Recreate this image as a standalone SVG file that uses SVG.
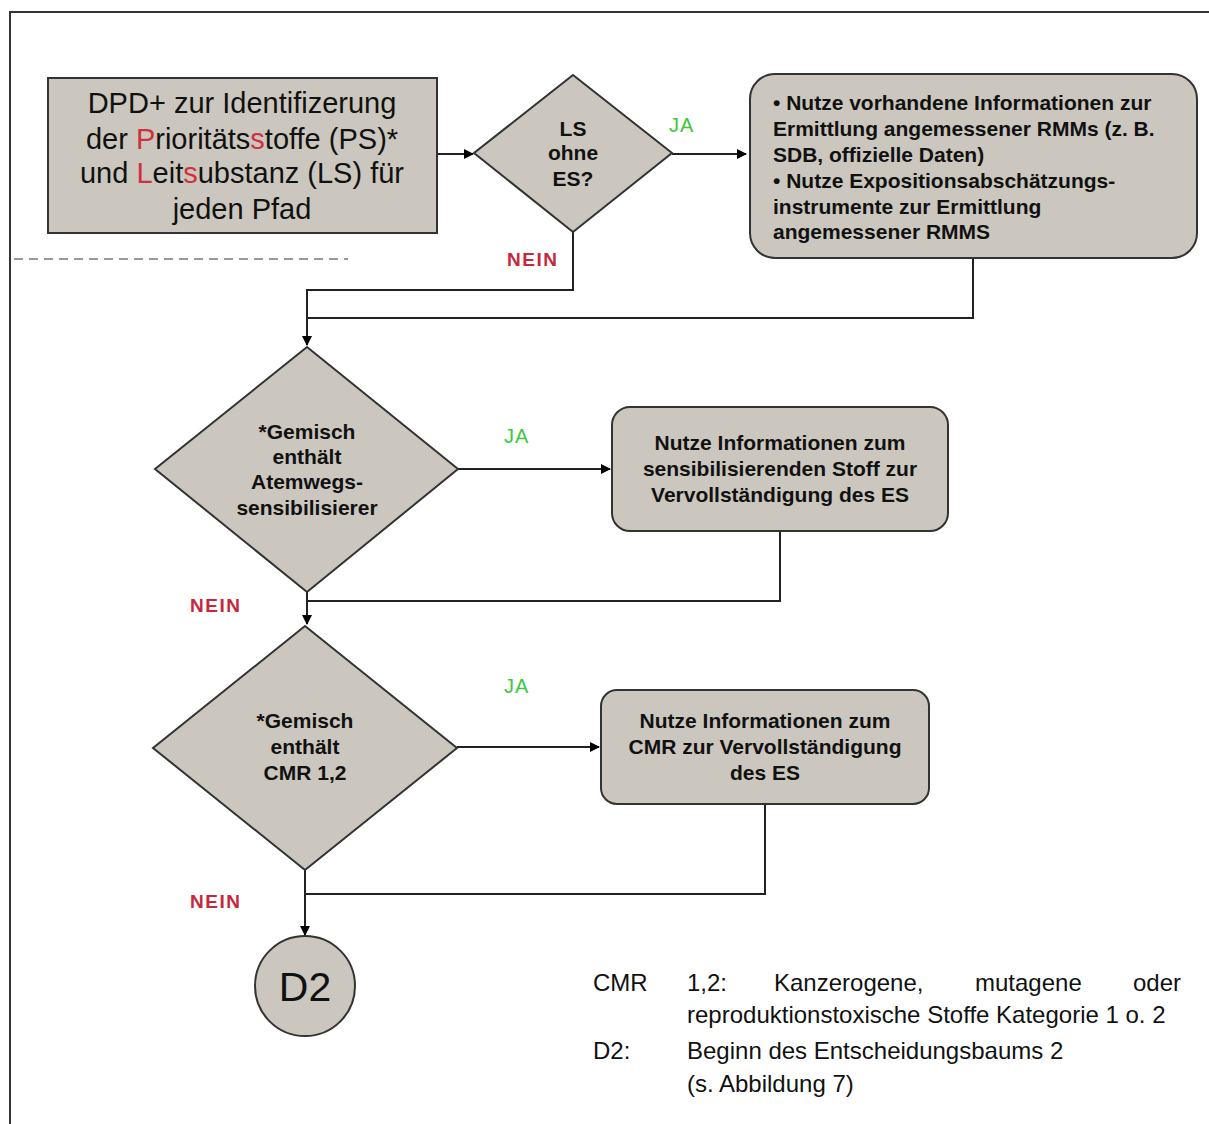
<svg xmlns="http://www.w3.org/2000/svg" width="1209" height="1124" viewBox="0 0 1209 1124">
<defs>
<marker id="arr" markerWidth="10" markerHeight="10" refX="9" refY="5" orient="auto" markerUnits="userSpaceOnUse">
<path d="M0,0 L10,5 L0,10 z" fill="#000"/>
</marker>
<style>
.shape{fill:#cbc7be;stroke:#333;stroke-width:2}
.conn{fill:none;stroke:#222;stroke-width:2}
.big{font-family:"Liberation Sans",Arial,sans-serif;font-size:29px;fill:#111;text-anchor:middle}
.nb{font-family:"Liberation Sans Narrow","Liberation Sans",Arial,sans-serif;font-weight:bold;font-size:21px;fill:#111}
.mid{text-anchor:middle}
.ja{font-family:"Liberation Sans Narrow","Liberation Sans",sans-serif;font-size:20px;fill:#3cc83c;letter-spacing:1px}
.nein{font-family:"Liberation Sans Narrow","Liberation Sans",sans-serif;font-size:19px;fill:#c8283c;font-weight:bold;letter-spacing:1.5px}
.leg{font-family:"Liberation Sans Narrow","Liberation Sans",sans-serif;font-size:24px;fill:#111}
.red{fill:#d0303c}
</style>
</defs>
<rect width="1209" height="1124" fill="#fff"/>
<path d="M10,1124 V12 H1209" fill="none" stroke="#333" stroke-width="2"/>
<line x1="14" y1="259" x2="348" y2="259" stroke="#999" stroke-width="2" stroke-dasharray="9,6"/>

<g id="connectors">
<line class="conn" x1="437" y1="154" x2="473" y2="154" marker-end="url(#arr)"/>
<line class="conn" x1="672" y1="154" x2="746" y2="154" marker-end="url(#arr)"/>
<polyline class="conn" points="573,232 573,290 307,290 307,345" marker-end="url(#arr)"/>
<polyline class="conn" points="973,258 973,318 307,318"/>
<line class="conn" x1="458" y1="469" x2="610" y2="469" marker-end="url(#arr)"/>
<polyline class="conn" points="780,531 780,601 307,601"/>
<line class="conn" x1="307" y1="592" x2="307" y2="624" marker-end="url(#arr)"/>
<line class="conn" x1="457" y1="747" x2="599" y2="747" marker-end="url(#arr)"/>
<polyline class="conn" points="765,804 765,894 305,894"/>
<line class="conn" x1="305" y1="870" x2="305" y2="935" marker-end="url(#arr)"/>
<text class="ja" x="669" y="132">JA</text>
<text class="nein" x="507" y="266">NEIN</text>
<text class="ja" x="504" y="443">JA</text>
<text class="nein" x="190" y="612">NEIN</text>
<text class="ja" x="504" y="693">JA</text>
<text class="nein" x="190" y="908">NEIN</text>
</g>

<g id="box1">
<rect class="shape" x="48" y="78" width="389" height="155"/>
<text class="big" x="242" y="113">DPD+ zur Identifizerung</text>
<text class="big" x="242" y="149">der <tspan class="red">P</tspan>rioritäts<tspan class="red">s</tspan>toffe (PS)*</text>
<text class="big" x="242" y="183">und <tspan class="red">L</tspan>eit<tspan class="red">s</tspan>ubstanz (LS)  für</text>
<text class="big" x="242" y="219">jeden Pfad</text>
</g>

<g id="d1">
<polygon class="shape" points="573,75 672,153 573,232 474,153"/>
<text class="nb mid" x="573" y="136">LS</text>
<text class="nb mid" x="573" y="160">ohne</text>
<text class="nb mid" x="573" y="186">ES?</text>
</g>

<g id="box2">
<rect class="shape" x="750" y="74" width="447" height="184" rx="25"/>
<text class="nb" x="773" y="110">• Nutze vorhandene Informationen zur</text>
<text class="nb" x="773" y="136">Ermittlung angemessener RMMs (z. B.</text>
<text class="nb" x="773" y="162">SDB, offizielle Daten)</text>
<text class="nb" x="773" y="188">• Nutze Expositionsabschätzungs-</text>
<text class="nb" x="773" y="214">instrumente zur Ermittlung</text>
<text class="nb" x="773" y="239">angemessener RMMS</text>
</g>

<g id="d2">
<polygon class="shape" points="307,347 458,469 307,592 155,469"/>
<text class="nb mid" x="307" y="439">*Gemisch</text>
<text class="nb mid" x="307" y="464">enthält</text>
<text class="nb mid" x="307" y="489">Atemwegs-</text>
<text class="nb mid" x="307" y="515">sensibilisierer</text>
</g>

<g id="box3">
<rect class="shape" x="612" y="407" width="336" height="124" rx="18"/>
<text class="nb mid" x="780" y="450">Nutze Informationen zum</text>
<text class="nb mid" x="780" y="476">sensibilisierenden Stoff zur</text>
<text class="nb mid" x="780" y="502">Vervollständigung des ES</text>
</g>

<g id="d3">
<polygon class="shape" points="305,626 457,748 305,870 153,748"/>
<text class="nb mid" x="305" y="728">*Gemisch</text>
<text class="nb mid" x="305" y="754">enthält</text>
<text class="nb mid" x="305" y="780">CMR 1,2</text>
</g>

<g id="box4">
<rect class="shape" x="601" y="690" width="328" height="114" rx="16"/>
<text class="nb mid" x="765" y="728">Nutze Informationen zum</text>
<text class="nb mid" x="765" y="754">CMR zur Vervollständigung</text>
<text class="nb mid" x="765" y="780">des ES</text>
</g>

<g id="d2end">
<ellipse class="shape" cx="305" cy="986" rx="50" ry="50"/>
<text x="305" y="1001" text-anchor="middle" font-family="Liberation Sans Narrow,Liberation Sans,sans-serif" font-size="41" fill="#111">D2</text>
</g>

<g id="legend">
<text class="leg" x="593" y="991">CMR</text>
<text class="leg" x="687" y="991">1,2:</text>
<text class="leg" x="774" y="991">Kanzerogene,</text>
<text class="leg" x="975" y="991">mutagene</text>
<text class="leg" x="1181" y="991" text-anchor="end">oder</text>
<text class="leg" x="687" y="1023">reproduktionstoxische Stoffe Kategorie 1 o. 2</text>
<text class="leg" x="593" y="1059">D2:</text>
<text class="leg" x="687" y="1059">Beginn des Entscheidungsbaums 2</text>
<text class="leg" x="687" y="1092">(s. Abbildung 7)</text>
</g>
</svg>
